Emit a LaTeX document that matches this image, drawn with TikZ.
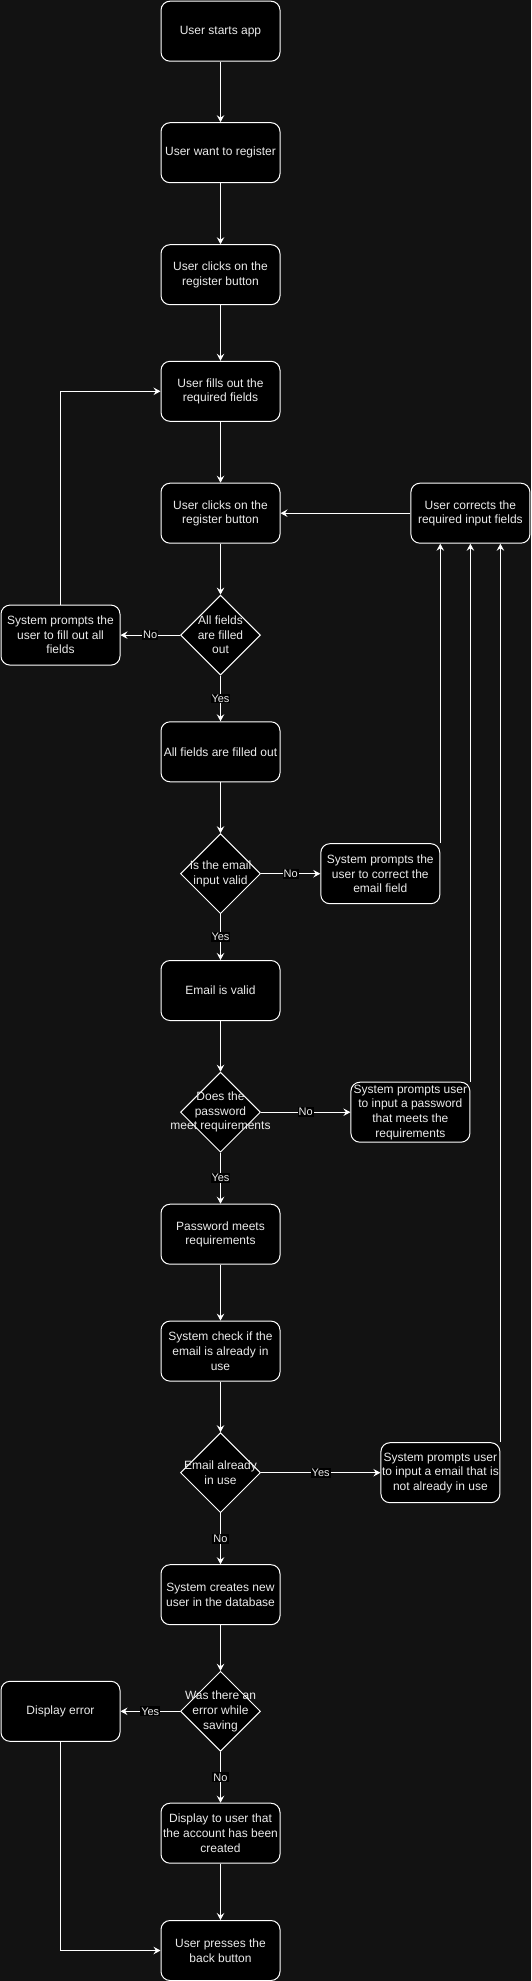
\documentclass[tikz,border=0pt]{standalone}
\usepackage{fontspec}
\setmainfont{Liberation Sans}
\usetikzlibrary{shapes.geometric,arrows.meta}
\definecolor{bgc}{RGB}{18,18,18}
\definecolor{txt}{RGB}{235,235,235}
\begin{document}
\begin{tikzpicture}[x=1pt,y=-1pt,
 box/.style={draw=white, fill=black, line width=1pt, rounded corners=9pt, minimum width=119pt, minimum height=60pt, inner sep=1pt, align=center, text=txt, font=\fontsize{12}{14.6}\selectfont},
 dia/.style={draw=white, fill=black, line width=1pt, diamond, minimum width=80pt, minimum height=80pt, inner sep=0pt},
 dtext/.style={align=center, text=txt, font=\fontsize{12}{14.6}\selectfont, inner sep=0pt},
 arr/.style={draw=white, line width=1pt, -{Stealth[length=7pt,width=7.5pt,inset=2.5pt]}},
 lbl/.style={fill=black, text=txt, font=\fontsize{11}{13}\selectfont, inner sep=1pt}
]
\useasboundingbox (0,0) rectangle (531,1981);
\fill[bgc] (0,0) rectangle (531,1981);

% main column
\node[box] (b1) at (220.5,31.2) {User starts app};
\node[box] (b2) at (220.5,152.7) {User want to register};
\node[box] (b3) at (220.5,274.7) {User clicks on the\\register button};
\node[box] (b4) at (220.5,391.3) {User fills out the\\required fields};
\node[box] (b5) at (220.5,513.2) {User clicks on the\\register button};
\node[box] (cr) at (470.4,513.2) {User corrects the\\required input fields};
\node[dia] (d1) at (220.5,635.1) {};
\node[dtext] (d1t) at (d1) {All fields\\are filled\\out};
\node[box] (pf) at (60.5,635.1) {System prompts the\\user to fill out all\\fields};
\node[box] (b6) at (220.5,751.8) {All fields are filled out};
\node[dia] (d2) at (220.5,873.7) {};
\node[dtext] (d2t) at (d2) {Is the email\\input valid};
\node[box] (pe) at (380.3,873.7) {System prompts the\\user to correct the\\email field};
\node[box] (b7) at (220.5,990.5) {Email is valid};
\node[dia] (d3) at (220.5,1112.2) {};
\node[dtext] (d3t) at (d3) {Does the\\password\\meet requirements};
\node[box] (pp) at (410.4,1112.2) {System prompts user\\to input a password\\that meets the\\requirements};
\node[box] (b8) at (220.5,1234.2) {Password meets\\requirements};
\node[box] (b9) at (220.5,1351.1) {System check if the\\email is already in\\use};
\node[dia] (d4) at (220.5,1472.7) {};
\node[dtext] (d4t) at (d4) {Email already\\in use};
\node[box] (pu) at (440.4,1472.7) {System prompts user\\to input a email that is\\not already in use};
\node[box] (b10) at (220.5,1594.7) {System creates new\\user in the database};
\node[dia] (d5) at (220.5,1711.3) {};
\node[dtext] (d5t) at (d5) {Was there an\\error while\\saving};
\node[box] (de) at (60.5,1711.3) {Display error};
\node[box] (b11) at (220.5,1833.2) {Display to user that\\the account has been\\created};
\node[box] (b12) at (220.5,1950.5) {User presses the\\back button};

% connectors
\draw[arr] (b1) -- (b2);
\draw[arr] (b2) -- (b3);
\draw[arr] (b3) -- (b4);
\draw[arr] (b4) -- (b5);
\draw[arr] (b5) -- (d1);
\draw[arr] (d1) -- node[lbl]{No} (pf);
\draw[arr] (pf.north) |- (b4.west);
\draw[arr] (d1) -- node[lbl]{Yes} (b6);
\draw[arr] (cr) -- (b5);
\draw[arr] (b6) -- (d2);
\draw[arr] (d2) -- node[lbl]{No} (pe);
\draw[arr] (pe.north east) -- (pe.north east |- cr.south);
\draw[arr] (d2) -- node[lbl]{Yes} (b7);
\draw[arr] (b7) -- (d3);
\draw[arr] (d3) -- node[lbl]{No} (pp);
\draw[arr] (pp.north east) -- (pp.north east |- cr.south);
\draw[arr] (d3) -- node[lbl]{Yes} (b8);
\draw[arr] (b8) -- (b9);
\draw[arr] (b9) -- (d4);
\draw[arr] (d4) -- node[lbl]{Yes} (pu);
\draw[arr] (pu.north east) -- (pu.north east |- cr.south);
\draw[arr] (d4) -- node[lbl]{No} (b10);
\draw[arr] (b10) -- (d5);
\draw[arr] (d5) -- node[lbl]{Yes} (de);
\draw[arr] (d5) -- node[lbl]{No} (b11);
\draw[arr] (b11) -- (b12);
\draw[arr] (de.south) |- (b12.west);
\end{tikzpicture}
\end{document}
